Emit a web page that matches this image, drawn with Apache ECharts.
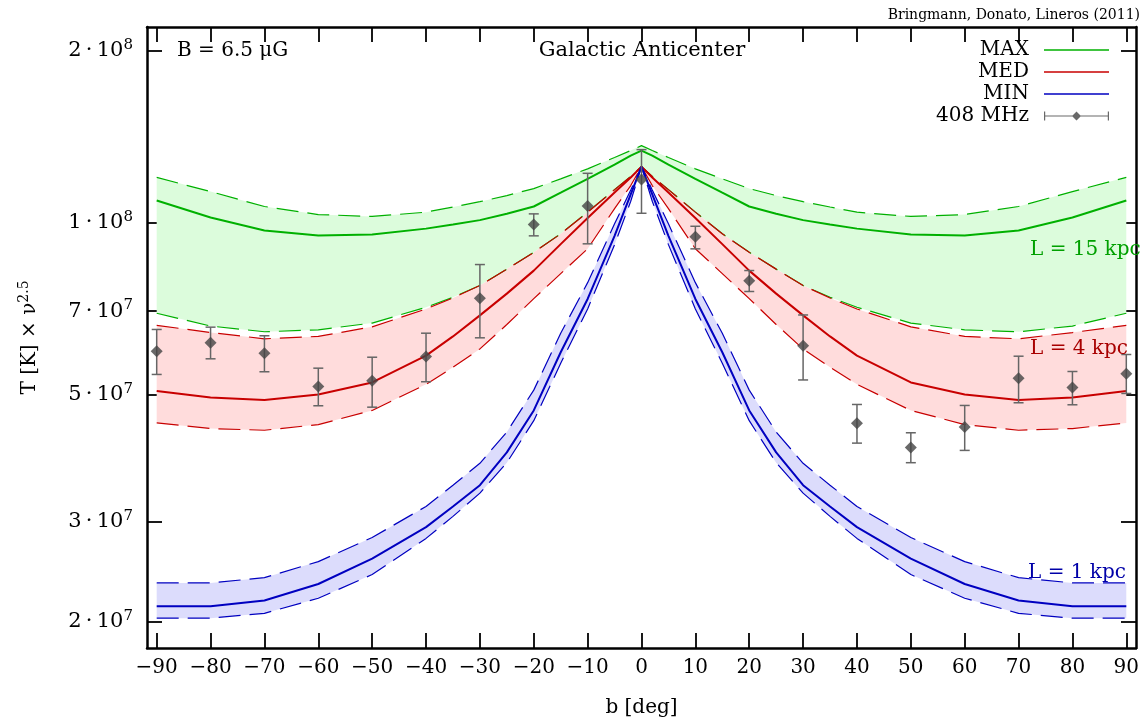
<!DOCTYPE html>
<html><head><meta charset="utf-8">
<script src="https://cdn.jsdelivr.net/npm/echarts@6/dist/echarts.min.js"></script>
<style>html,body{margin:0;padding:0;background:#fff}#c{width:1146px;height:717px}</style>
</head><body><div id="c"></div>
<script>
// Galactic latitude grid for the model curves (deg)
const bGrid = [-90,-80,-70,-60,-50,-40,-35,-30,-25,-20,-15,-10,-5,-2,0,2,5,10,15,20,25,30,35,40,50,60,70,80,90];

// MAX model (green)
const maxUpper = [1.200e8,1.133e8,1.067e8,1.033e8,1.025e8,1.043e8,1.065e8,1.088e8,1.115e8,1.147e8,1.193e8,1.242e8,1.300e8,1.337e8,1.364e8,1.337e8,1.300e8,1.242e8,1.193e8,1.147e8,1.115e8,1.088e8,1.065e8,1.043e8,1.025e8,1.033e8,1.067e8,1.133e8,1.200e8];
const maxMid   = [1.093e8,1.021e8,9.69e7,9.49e7,9.53e7,9.76e7,9.92e7,1.010e8,1.036e8,1.067e8,1.128e8,1.193e8,1.263e8,1.310e8,1.337e8,1.310e8,1.263e8,1.193e8,1.128e8,1.067e8,1.036e8,1.010e8,9.92e7,9.76e7,9.53e7,9.49e7,9.69e7,1.021e8,1.093e8];
const maxLower = [6.94e7,6.59e7,6.44e7,6.49e7,6.67e7,7.11e7,7.40e7,7.76e7,8.29e7,8.87e7,9.56e7,1.043e8,1.142e8,1.204e8,1.253e8,1.204e8,1.142e8,1.043e8,9.56e7,8.87e7,8.29e7,7.76e7,7.40e7,7.11e7,6.67e7,6.49e7,6.44e7,6.59e7,6.94e7];

// MED model (red)
const medUpper = [6.61e7,6.42e7,6.26e7,6.32e7,6.57e7,7.06e7,7.38e7,7.76e7,8.29e7,8.87e7,9.56e7,1.043e8,1.142e8,1.204e8,1.253e8,1.204e8,1.142e8,1.043e8,9.56e7,8.87e7,8.29e7,7.76e7,7.38e7,7.06e7,6.57e7,6.32e7,6.26e7,6.42e7,6.61e7];
const medMid   = [5.07e7,4.94e7,4.89e7,5.00e7,5.25e7,5.85e7,6.32e7,6.88e7,7.51e7,8.24e7,9.17e7,1.019e8,1.129e8,1.199e8,1.253e8,1.199e8,1.129e8,1.019e8,9.17e7,8.24e7,7.51e7,6.88e7,6.32e7,5.85e7,5.25e7,5.00e7,4.89e7,4.94e7,5.07e7];
const medLower = [4.46e7,4.36e7,4.33e7,4.43e7,4.69e7,5.21e7,5.58e7,6.01e7,6.63e7,7.36e7,8.14e7,9.00e7,1.058e8,1.161e8,1.253e8,1.161e8,1.058e8,9.00e7,8.14e7,7.36e7,6.63e7,6.01e7,5.58e7,5.21e7,4.69e7,4.43e7,4.33e7,4.36e7,4.46e7];

// MIN model (blue)
const minUpper = [2.34e7,2.34e7,2.39e7,2.55e7,2.81e7,3.185e7,3.47e7,3.79e7,4.30e7,5.09e7,6.40e7,7.85e7,9.95e7,1.14e8,1.253e8,1.14e8,9.95e7,7.85e7,6.40e7,5.09e7,4.30e7,3.79e7,3.47e7,3.185e7,2.81e7,2.55e7,2.39e7,2.34e7,2.34e7];
const minMid   = [2.13e7,2.13e7,2.18e7,2.33e7,2.58e7,2.93e7,3.185e7,3.47e7,3.96e7,4.69e7,5.93e7,7.35e7,9.48e7,1.12e8,1.253e8,1.12e8,9.48e7,7.35e7,5.93e7,4.69e7,3.96e7,3.47e7,3.185e7,2.93e7,2.58e7,2.33e7,2.18e7,2.13e7,2.13e7];
const minLower = [2.03e7,2.03e7,2.07e7,2.20e7,2.42e7,2.80e7,3.06e7,3.36e7,3.80e7,4.50e7,5.67e7,7.06e7,9.15e7,1.09e8,1.253e8,1.09e8,9.15e7,7.06e7,5.67e7,4.50e7,3.80e7,3.36e7,3.06e7,2.80e7,2.42e7,2.20e7,2.07e7,2.03e7,2.03e7];

// 408 MHz data
const obsB  = [-90,-80,-70,-60,-50,-40,-30,-20,-10,0,10,20,30,40,50,60,70,80,90];
const obsT  = [5.955e7,6.160e7,5.907e7,5.166e7,5.286e7,5.829e7,7.374e7,9.921e7,1.0697e8,1.1893e8,9.442e7,7.908e7,6.088e7,4.456e7,4.040e7,4.385e7,5.341e7,5.145e7,5.436e7];
const obsHi = [6.500e7,6.561e7,6.337e7,5.561e7,5.812e7,6.403e7,8.444e7,1.0358e8,1.2198e8,1.3420e8,9.853e7,8.243e7,6.891e7,4.804e7,4.286e7,4.785e7,5.836e7,5.487e7,5.876e7];
const obsLo = [5.422e7,5.775e7,5.481e7,4.779e7,4.752e7,5.265e7,6.285e7,9.480e7,9.180e7,1.0383e8,8.996e7,7.575e7,5.303e7,4.111e7,3.799e7,3.992e7,4.837e7,4.798e7,5.022e7];

// axis ticks
const xTicks = [-90,-80,-70,-60,-50,-40,-30,-20,-10,0,10,20,30,40,50,60,70,80,90];
const yTicks = [2e7,3e7,5e7,7e7,1e8,2e8];

const FONT = 'DejaVu Serif';
const C = {max:'#00b000', med:'#c80000', min:'#0000c0'};
const FILL = {max:'#dcfcdc', med:'#ffdcdc', min:'#dcdcfc'};

function pairs(ys){ return bGrid.map((x,i)=>[x, ys[i]]); }
function band(name, upper, lower, color){
  return {type:'custom', name, coordinateSystem:'cartesian2d', silent:true, z:1,
    data:[[bGrid[0], upper[0]]], encode:{x:0,y:1},
    renderItem(params, api){
      const pts=[];
      for(let i=0;i<bGrid.length;i++) pts.push(api.coord([bGrid[i], upper[i]]));
      for(let i=bGrid.length-1;i>=0;i--) pts.push(api.coord([bGrid[i], lower[i]]));
      return {type:'polygon', shape:{points:pts}, style:{fill:color}};
    }};
}
function line(name, ys, color, dashed, z){
  return {type:'line', name, data:pairs(ys), symbol:'none', showSymbol:false, silent:true, z:z,
    lineStyle:{color, width: dashed?1.2:2, type: dashed?[22,9]:'solid'}, itemStyle:{color}};
}

const LINE_ICON = 'path://M0,0L0,0M10,4.3L75,4.3L75,5.7L10,5.7ZM75,10L75,10';
const ERR_ICON = 'path://M0,0L0,0M10,4.4L75,4.4L75,5.6L10,5.6ZM10,0.5L11.2,0.5L11.2,9.5L10,9.5ZM73.8,0.5L75,0.5L75,9.5L73.8,9.5ZM42.5,0.5L47,5L42.5,9.5L38,5ZM75,10L75,10';

function yFmt(v){
  const e = Math.floor(Math.log10(v)+1e-9);
  const m = Math.round(v/Math.pow(10,e));
  return '{a|'+m+'\u2009\u00b7\u200910}{s|'+e+'}';
}
const richLab = {
  a:{fontFamily:FONT, fontSize:21, color:'#000', lineHeight:26},
  s:{fontFamily:FONT, fontSize:15, color:'#000', lineHeight:16, verticalAlign:'top'}
};

const axisLine = {show:true, onZero:false, lineStyle:{color:'#000', width:2.5}};
const tick = (vals)=>({show:true, inside:true, length:15, lineStyle:{color:'#000', width:1.8}, customValues:vals});
const chart = echarts.init(document.getElementById('c'), null, {renderer:'canvas'});
chart.setOption({
  animation:false,
  backgroundColor:'#fff',
  grid:{left:147, right:10, top:27, bottom:69, containLabel:false, outerBoundsMode:'none'},
  xAxis:[
    {type:'value', min:-91.8, max:91.8, position:'bottom', axisLine, axisTick:tick(xTicks),
     axisLabel:{customValues:xTicks, fontFamily:FONT, fontSize:20, color:'#000', margin:10,
       formatter:v=> v<0 ? '\u2212'+(-v) : String(v)},
     splitLine:{show:false},
     name:'b [deg]', nameLocation:'middle', nameGap:50, nameTextStyle:{fontFamily:FONT, fontSize:20, color:'#000'}},
    {type:'value', min:-91.8, max:91.8, position:'top', axisLine, axisTick:tick(xTicks),
     axisLabel:{show:false}, splitLine:{show:false}}
  ],
  yAxis:[
    {type:'log', logBase:10, min:1.8e7, max:2.2e8, position:'left', axisLine, axisTick:tick(yTicks),
     axisLabel:{customValues:yTicks, margin:14, formatter:yFmt, rich:richLab},
     splitLine:{show:false}, minorTick:{show:false},
     name:'{a|T [K] \u00d7 \u03bd}{s|2.5}', nameLocation:'middle', nameRotate:90, nameGap:104,
     nameTextStyle:{rich:{
       a:{fontFamily:FONT, fontSize:20, color:'#000', lineHeight:26},
       s:{fontFamily:FONT, fontSize:14, color:'#000', lineHeight:16, verticalAlign:'top'}}}},
    {type:'log', logBase:10, min:1.8e7, max:2.2e8, position:'right', axisLine, axisTick:tick(yTicks),
     axisLabel:{show:false}, splitLine:{show:false}}
  ],
  legend:{orient:'vertical', right:32, top:35, align:'right', itemWidth:75, itemHeight:10, itemGap:2,
    selectedMode:false, textStyle:{fontFamily:FONT, fontSize:20, color:'#000'},
    itemStyle:{borderWidth:0},
    data:[{name:'MAX', icon:LINE_ICON},{name:'MED', icon:LINE_ICON},{name:'MIN', icon:LINE_ICON},{name:'408 MHz', icon:ERR_ICON}]},
  graphic:[
    {type:'text', z:100, x:177, y:51, style:{text:'B = 6.5 \u03bcG', font:'20px "DejaVu Serif"', fill:'#000', align:'left', verticalAlign:'middle'}},
    {type:'text', z:100, x:642, y:51, style:{text:'Galactic Anticenter', font:'21px "DejaVu Serif"', fill:'#000', align:'center', verticalAlign:'middle'}},
    {type:'text', z:100, x:1140, y:15, style:{text:'Bringmann, Donato, Lineros (2011)', font:'14px "DejaVu Serif"', fill:'#000', align:'right', verticalAlign:'middle'}},
    {type:'text', z:100, x:1030, y:250, style:{text:'L = 15 kpc', font:'20px "DejaVu Serif"', fill:'#00a000', align:'left', verticalAlign:'middle'}},
    {type:'text', z:100, x:1030, y:349, style:{text:'L = 4 kpc', font:'20px "DejaVu Serif"', fill:'#a80000', align:'left', verticalAlign:'middle'}},
    {type:'text', z:100, x:1028, y:573, style:{text:'L = 1 kpc', font:'20px "DejaVu Serif"', fill:'#0000a8', align:'left', verticalAlign:'middle'}}
  ],
  series:[
    band('MAX band', maxUpper, maxLower, FILL.max),
    band('MED band', medUpper, medLower, FILL.med),
    band('MIN band', minUpper, minLower, FILL.min),
    line('MAX upper', maxUpper, C.max, true, 3),
    line('MAX lower', maxLower, C.max, true, 3),
    line('MED upper', medUpper, C.med, true, 3),
    line('MED lower', medLower, C.med, true, 3),
    line('MIN upper', minUpper, C.min, true, 3),
    line('MIN lower', minLower, C.min, true, 3),
    line('MAX', maxMid, C.max, false, 4),
    line('MED', medMid, C.med, false, 4),
    line('MIN', minMid, C.min, false, 4),
    {type:'custom', name:'408 MHz errors', silent:true, z:5,
     data: obsB.map((x,i)=>[x, obsLo[i], obsHi[i]]), encode:{x:0, y:[1,2]},
     renderItem(params, api){
       const x = api.value(0);
       const p1 = api.coord([x, api.value(1)]);
       const p2 = api.coord([x, api.value(2)]);
       const w = 5, st = {stroke:'#666', lineWidth:1.5};
       return {type:'group', children:[
         {type:'line', shape:{x1:p1[0], y1:p1[1], x2:p2[0], y2:p2[1]}, style:st},
         {type:'line', shape:{x1:p1[0]-w, y1:p1[1], x2:p1[0]+w, y2:p1[1]}, style:st},
         {type:'line', shape:{x1:p2[0]-w, y1:p2[1], x2:p2[0]+w, y2:p2[1]}, style:st}
       ]};
     }},
    {type:'scatter', name:'408 MHz', z:6, silent:true, symbol:'diamond', symbolSize:12,
     itemStyle:{color:'#444'}, data: obsB.map((x,i)=>[x, obsT[i]])}
  ]
});
</script>
</body></html>
